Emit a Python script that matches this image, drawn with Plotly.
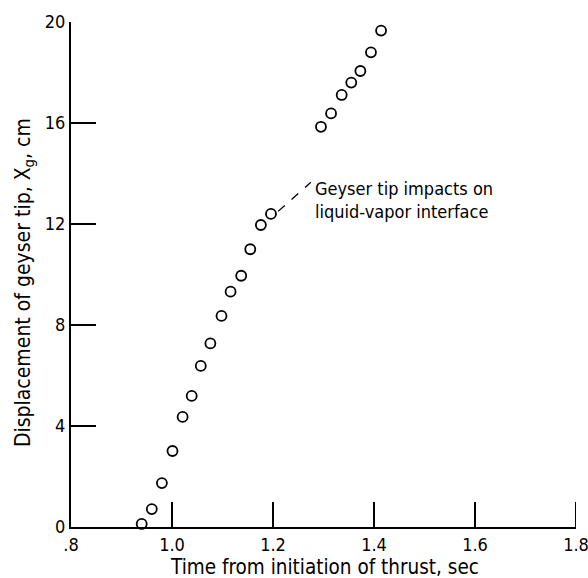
import plotly.graph_objects as go

# Data
time_s = [0.940, 0.960, 0.980, 1.001, 1.021, 1.039, 1.057, 1.076, 1.098, 1.116,
          1.137, 1.155, 1.176, 1.196, 1.295, 1.315, 1.336, 1.355, 1.373, 1.394, 1.414]
disp_cm = [0.12, 0.71, 1.74, 3.01, 4.36, 5.19, 6.38, 7.27, 8.36, 9.32,
           9.95, 11.0, 11.96, 12.40, 15.85, 16.38, 17.11, 17.6, 18.06, 18.8, 19.66]

x_ticks = [0.8, 1.0, 1.2, 1.4, 1.6, 1.8]
x_ticktext = [".8", "1.0", "1.2", "1.4", "1.6", "1.8"]
y_ticks = [0, 4, 8, 12, 16, 20]
y_ticktext = ["0", "4", "8", "12", "16", "20"]

FONT = "DejaVu Sans Condensed, Liberation Sans Narrow, DejaVu Sans, sans-serif"
TICKLEN = 25
PLOT_H = 505

fig = go.Figure()
fig.add_trace(go.Scatter(
    x=time_s, y=disp_cm, mode="markers",
    marker=dict(symbol="circle-open", size=10, color="black", line=dict(width=1.8, color="black")),
    cliponaxis=False, showlegend=False, hoverinfo="x+y",
))

# Leader line for annotation (dashed)
fig.add_shape(type="line", x0=1.21, y0=12.5, x1=1.275, y1=13.65,
              line=dict(color="black", width=1.3, dash="dash"), layer="above")
fig.add_annotation(x=1.279, y=12.95, xref="x", yref="y",
                   text="Geyser tip impacts on<br>liquid-vapor interface",
                   showarrow=False, xanchor="left", yanchor="middle", align="left",
                   font=dict(family=FONT, size=18, color="black"))

# Right-end x tick (plotly drops inside ticks at the range end)
fig.add_shape(type="line", xref="x", yref="paper", x0=x_ticks[-1], x1=x_ticks[-1],
              y0=0, y1=TICKLEN / PLOT_H, line=dict(color="black", width=2), layer="above")

# Axis titles as annotations for exact placement
fig.add_annotation(x=0.501, y=-0.08, xref="paper", yref="paper",
                   text="Time from initiation of thrust, sec", showarrow=False,
                   xanchor="center", yanchor="middle",
                   font=dict(family=FONT, size=20.5, color="black"))
fig.add_annotation(x=-0.093, y=0.483, xref="paper", yref="paper", textangle=-90,
                   text="Displacement of geyser tip, X<sub>g</sub>, cm", showarrow=False,
                   xanchor="center", yanchor="middle",
                   font=dict(family=FONT, size=21, color="black"))

axis_common = dict(showgrid=False, zeroline=False, showline=True, linecolor="black", linewidth=2,
                   ticks="inside", ticklen=TICKLEN, tickwidth=2, tickcolor="black",
                   tickfont=dict(family=FONT, size=18, color="black"), mirror=False,
                   automargin=False, ticklabeloverflow="allow")

fig.update_xaxes(range=[0.8, 1.8], tickvals=x_ticks, ticktext=x_ticktext, **axis_common)
fig.update_yaxes(range=[0, 20], tickvals=y_ticks, ticktext=y_ticktext, **axis_common)

fig.update_layout(width=588, height=578, margin=dict(l=71, r=12, t=22, b=51),
                  paper_bgcolor="white", plot_bgcolor="white",
                  font=dict(family=FONT, color="black"))

fig.write_html("out.html", config={"displayModeBar": False},
               post_script="document.body.style.margin='0';document.body.style.overflow='hidden';")
